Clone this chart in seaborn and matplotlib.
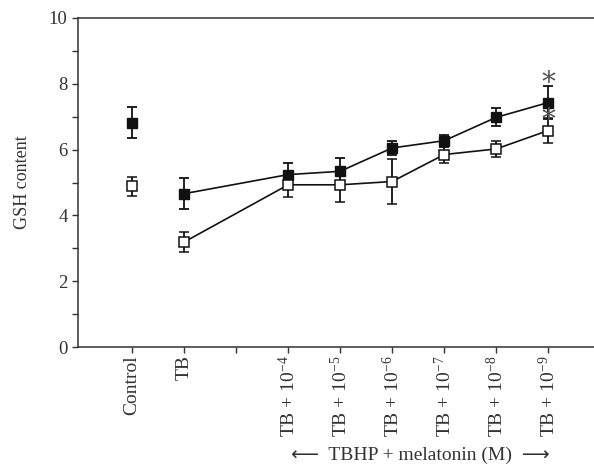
import numpy as np
import pandas as pd
import matplotlib
matplotlib.use("Agg")
import matplotlib.pyplot as plt
import matplotlib.transforms as mtransforms
import seaborn as sns

# ---- data ----
categories = ["Control", "TB", "", "TB + 10$^{-4}$", "TB + 10$^{-5}$", "TB + 10$^{-6}$",
              "TB + 10$^{-7}$", "TB + 10$^{-8}$", "TB + 10$^{-9}$"]
positions = [0, 1, 3, 4, 5, 6, 7, 8]          # category slots that carry data
filled_vals = [6.82, 4.66, 5.24, 5.34, 6.05, 6.27, 6.98, 7.43]
filled_err = [0.46, 0.48, 0.36, 0.40, 0.22, 0.18, 0.27, 0.50]
open_vals = [4.88, 3.19, 4.93, 4.93, 5.03, 5.85, 6.02, 6.58]
open_err = [0.30, 0.30, 0.37, 0.52, 0.68, 0.27, 0.25, 0.37]
star_pos = [8, 8]
star_y = [8.0, 6.88]
yticks = [0, 2, 4, 6, 8, 10]

sns.set_theme(style="ticks")
plt.rcParams['font.family'] = ['Liberation Serif', 'DejaVu Sans']
plt.rcParams['mathtext.fontset'] = 'custom'
plt.rcParams['mathtext.rm'] = 'Liberation Serif'
plt.rcParams['mathtext.it'] = 'Liberation Serif:italic'

txt = '#333333'
ink = '#111111'

fig = plt.figure(figsize=(5.94, 4.70), dpi=100)
ax = fig.add_axes([78/594, 1 - 347/470, 1 - 78/594, (347 - 18)/470])

df = pd.DataFrame({"pos": positions, "filled": filled_vals, "open": open_vals})
conn = df[df["pos"] >= 1]
sns.lineplot(data=conn, x="pos", y="filled", ax=ax, color=ink, lw=1.2, estimator=None, sort=True)
sns.lineplot(data=conn, x="pos", y="open", ax=ax, color=ink, lw=1.2, estimator=None, sort=True)

ax.errorbar(positions, filled_vals, yerr=filled_err, fmt='s', ms=6.5, mfc=ink, mec=ink,
            ecolor=ink, elinewidth=1.3, capsize=3.5, capthick=1.3, zorder=4)
ax.errorbar(positions, open_vals, yerr=open_err, fmt='s', ms=6.5, mfc='white', mec=ink, mew=1.1,
            ecolor=ink, elinewidth=1.3, capsize=3.5, capthick=1.3, zorder=5)

for xp, yp in zip(star_pos, star_y):
    ax.text(xp, yp, "*", ha='center', va='center', fontsize=20, color='#555555',
            family=['DejaVu Serif'], zorder=7)

ax.set_xlim(-1.04, 8.88)
ax.set_ylim(0, 10)
ax.set_xticks(range(len(categories)))
ax.set_xticklabels(categories, rotation=90, fontsize=14, color=txt)
ax.set_yticks(yticks)
ax.set_yticks([1, 3, 5, 7, 9], minor=True)
ax.tick_params(axis='y', which='major', length=4, width=1, labelsize=13.5, labelcolor=txt, color='#333333')
ax.tick_params(axis='y', which='minor', length=4, width=1, color='#333333')
ax.tick_params(axis='x', length=4, width=1, color='#333333', pad=2)
ax.set_ylabel("GSH content", fontsize=13, color=txt, labelpad=13)
ax.set_xlabel("")

for s in ['left', 'bottom', 'top']:
    ax.spines[s].set_visible(True)
    ax.spines[s].set_color('#333333')
    ax.spines[s].set_linewidth(1.1)
ax.spines['right'].set_visible(False)

trans = mtransforms.blended_transform_factory(ax.transData, fig.transFigure)
ax.text(5.55, 1 - 455/470, "⟵  TBHP + melatonin (M)  ⟶", transform=trans,
        ha='center', va='center', fontsize=14, color=txt,
        family=['Liberation Serif', 'DejaVu Sans'])

fig.savefig("out.png", dpi=100)
